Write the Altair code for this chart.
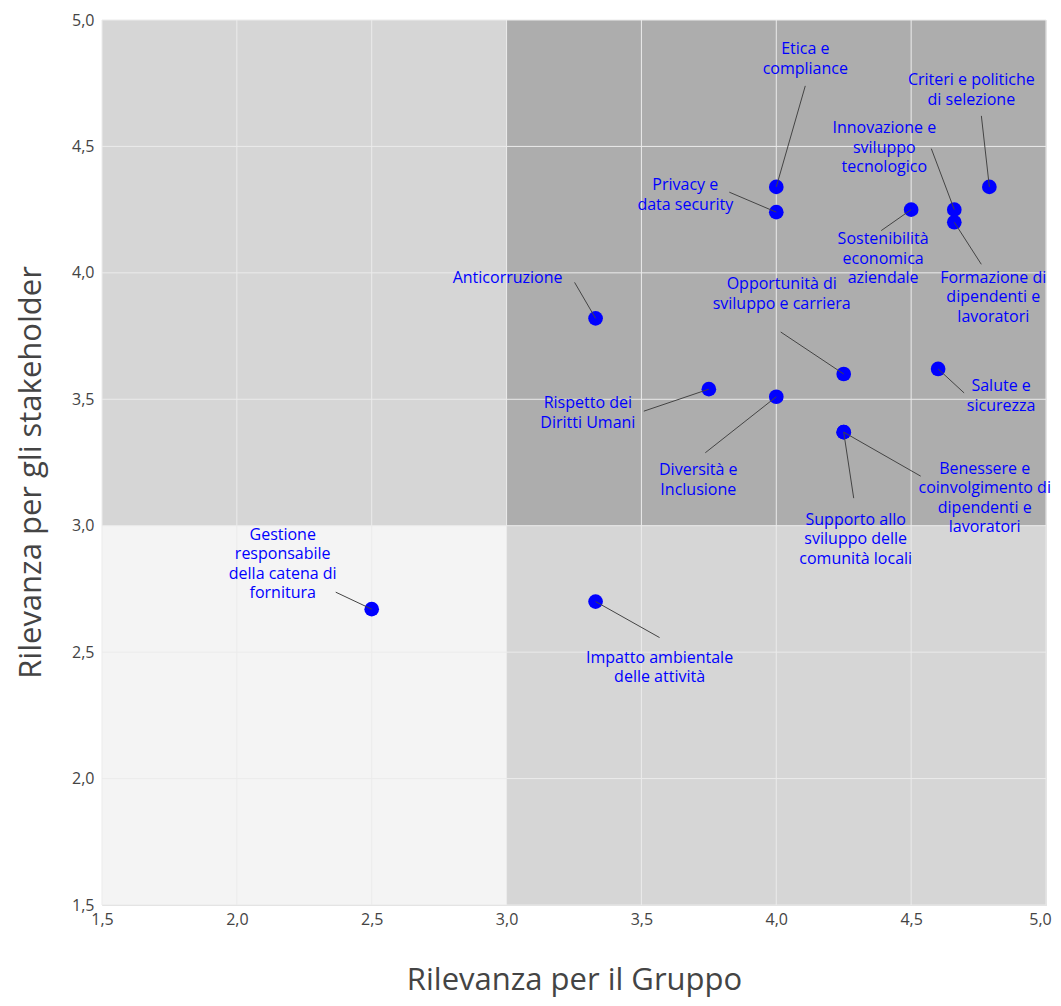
import altair as alt
import pandas as pd

# ---- data ----
labels = [
    "Etica e\ncompliance",
    "Criteri e politiche\ndi selezione",
    "Innovazione e\nsviluppo\ntecnologico",
    "Privacy e\ndata security",
    "Sostenibilità\neconomica\naziendale",
    "Formazione di\ndipendenti e\nlavoratori",
    "Anticorruzione",
    "Opportunità di\nsviluppo e carriera",
    "Salute e\nsicurezza",
    "Rispetto dei\nDiritti Umani",
    "Diversità e\nInclusione",
    "Supporto allo\nsviluppo delle\ncomunità locali",
    "Benessere e\ncoinvolgimento di\ndipendenti e\nlavoratori",
    "Gestione\nresponsabile\ndella catena di\nfornitura",
    "Impatto ambientale\ndelle attività",
]
rilevanza_gruppo = [4.0, 4.79, 4.66, 4.0, 4.5, 4.66, 3.33, 4.25, 4.6, 3.75, 4.0, 4.25, 4.25, 2.5, 3.33]
rilevanza_stakeholder = [4.34, 4.34, 4.25, 4.24, 4.25, 4.2, 3.82, 3.6, 3.62, 3.54, 3.51, 3.37, 3.37, 2.67, 2.7]

# annotation offsets in pixels (text block centre and connector end, relative to the point)
text_dx = [29, -18, -70, -91, -28, 39, -88, -62, 63, -121, -78, 12, 141, -89, 64]
text_dy = [-128, -97, -62, -17, 49, 75, -40, -80, 27, 24, 83, 107, 66, -45, 66]
line_dx = [29, -8, -23, -47, -30, 27, -21, -63, 26, -65, -71, 10, 77, -36, 64]
line_dy = [-101, -71, -61, -20, 21, 42, -36, -42, 24, 22, 56, 66, 44, -17, 36]

# quadrant backgrounds
quad_x0 = [1.5, 1.5, 3.0, 3.0]
quad_x1 = [3.0, 3.0, 5.0, 5.0]
quad_y0 = [1.5, 3.0, 1.5, 3.0]
quad_y1 = [3.0, 5.0, 3.0, 5.0]
quad_color = ["#f4f4f4", "#d6d6d6", "#d6d6d6", "#adadad"]

ticks = [1.5, 2.0, 2.5, 3.0, 3.5, 4.0, 4.5, 5.0]

# ---- layout ----
W, H = 944, 885
LINE_H = 19.5
XMIN, XMAX, YMIN, YMAX = 1.5, 5.0, 1.5, 5.0
kx = W / (XMAX - XMIN)
ky = H / (YMAX - YMIN)

nlines = [lab.count("\n") + 1 for lab in labels]
df = pd.DataFrame({
    "label": labels,
    "x": rilevanza_gruppo,
    "y": rilevanza_stakeholder,
})
df["tx"] = [x + d / kx for x, d in zip(rilevanza_gruppo, text_dx)]
df["ty"] = [y - (d - (n - 1) * LINE_H / 2) / ky
            for y, d, n in zip(rilevanza_stakeholder, text_dy, nlines)]
df["lx"] = [x + d / kx for x, d in zip(rilevanza_gruppo, line_dx)]
df["ly"] = [y - d / ky for y, d in zip(rilevanza_stakeholder, line_dy)]

qdf = pd.DataFrame({"x0": quad_x0, "x1": quad_x1, "y0": quad_y0, "y1": quad_y1, "c": quad_color})
gdf = pd.DataFrame({"v": ticks})

xscale = alt.Scale(domain=[XMIN, XMAX], nice=False, zero=False)
yscale = alt.Scale(domain=[YMIN, YMAX], nice=False, zero=False)
lab_expr = "replace(format(datum.value, '.1f'), '.', ',')"

x_axis = alt.Axis(
    values=ticks, labelExpr=lab_expr, grid=False, ticks=False, domain=False,
    labelFont="Open Sans", labelFontSize=16, labelColor="#444", labelPadding=6,
    labelFlush=False, labelOverlap=False,
    labelOffset={"condition": {"test": "datum.value >= 5", "value": -6}, "value": 0},
    title="Rilevanza per il Gruppo", titleFont="Open Sans", titleFontSize=31,
    titleFontWeight="normal", titleColor="#444", titleY=84, titleBaseline="alphabetic",
)
y_axis = alt.Axis(
    values=ticks, labelExpr=lab_expr, grid=False, ticks=False, domain=False,
    labelFont="Open Sans", labelFontSize=16, labelColor="#444", labelPadding=8,
    labelFlush=False, labelOverlap=False,
    title="Rilevanza per gli stakeholder", titleFont="Open Sans", titleFontSize=31,
    titleFontWeight="normal", titleColor="#444", titleX=-62, titleY=452,
    titleAngle=270, titleAlign="center", titleBaseline="alphabetic",
)

quads = alt.Chart(qdf).mark_rect().encode(
    x=alt.X("x0:Q", scale=xscale, axis=x_axis),
    x2="x1:Q",
    y=alt.Y("y0:Q", scale=yscale, axis=y_axis),
    y2="y1:Q",
    color=alt.Color("c:N", scale=None),
)

vgrid = alt.Chart(gdf).mark_rule(color="#ebebeb", strokeWidth=1).encode(
    x=alt.X("v:Q", scale=xscale)
)
hgrid = alt.Chart(gdf).mark_rule(color="#ebebeb", strokeWidth=1).encode(
    y=alt.Y("v:Q", scale=yscale)
)

points = alt.Chart(df).mark_point(filled=True, size=215, opacity=1, color="#0000ff").encode(
    x=alt.X("x:Q", scale=xscale),
    y=alt.Y("y:Q", scale=yscale),
)

connectors = alt.Chart(df).mark_rule(color="#444", strokeWidth=1).encode(
    x=alt.X("x:Q", scale=xscale),
    y=alt.Y("y:Q", scale=yscale),
    x2="lx:Q",
    y2="ly:Q",
)

texts = alt.Chart(df).mark_text(
    font="Open Sans", fontSize=16, color="#0000ff", align="center",
    baseline="middle", lineBreak="\n", lineHeight=LINE_H,
).encode(
    x=alt.X("tx:Q", scale=xscale),
    y=alt.Y("ty:Q", scale=yscale),
    text="label:N",
)

chart = alt.layer(quads, vgrid, hgrid, points, connectors, texts).properties(
    width=W, height=H,
    autosize=alt.AutoSizeParams(type="none"),
    padding={"left": 94, "top": 12, "right": 7, "bottom": 93},
).configure_view(stroke="transparent").configure(background="white")

chart.save("out.html", embed_options={"renderer": "svg", "actions": False})
